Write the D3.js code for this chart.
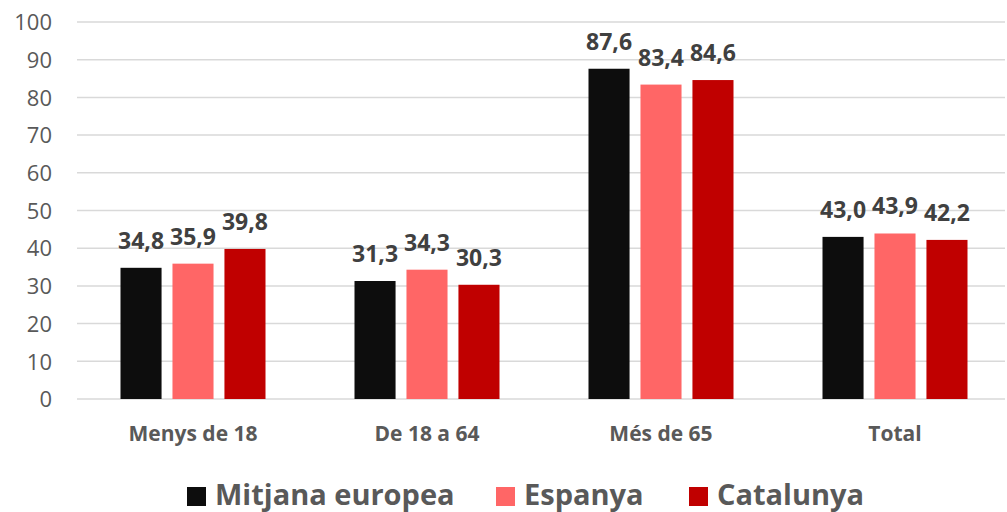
<!DOCTYPE html>
<meta charset="utf-8">
<style>
  body { margin: 0; background: #fff; }
  svg { display: block; font-family: "Open Sans", sans-serif; }
  .grid line { stroke: #d9d9d9; stroke-width: 1.5px; }
  .axis text { font-family: "Open Sans", sans-serif; }
  .axis--y text { fill: #595959; font-size: 22px; }
  .axis--x text { fill: #595959; font-size: 21px; font-weight: bold; }
  .label { fill: #404040; font-size: 23px; font-weight: bold; }
  .legend text { fill: #595959; font-size: 29px; font-weight: bold; }
</style>
<svg width="1007" height="512"></svg>
<script src="https://d3js.org/d3.v7.min.js"></script>
<script>

var categories = ["Menys de 18", "De 18 a 64", "Més de 65", "Total"];
var seriesNames = ["Mitjana europea", "Espanya", "Catalunya"];
var mitjana = [34.8, 31.3, 87.6, 43.0];
var espanya = [35.9, 34.3, 83.4, 43.9];
var catalunya = [39.8, 30.3, 84.6, 42.2];
var yTicks = [0, 10, 20, 30, 40, 50, 60, 70, 80, 90, 100];
var colors = ["#0d0d0d", "#ff6666", "#c00000"];

var seriesValues = [mitjana, espanya, catalunya];

var svg = d3.select("svg");

var x0 = d3.scaleBand().domain(categories).range([76, 1012]).paddingInner(0).paddingOuter(0);
var x1 = d3.scaleBand().domain(seriesNames).range([-72.5, 72.5]).paddingInner(0.21).paddingOuter(0);
var y = d3.scaleLinear().domain([0, 100]).range([399, 22]);

// gridlines
svg.append("g")
    .attr("class", "grid")
  .selectAll("line")
  .data(yTicks)
  .enter().append("line")
    .attr("x1", 77)
    .attr("x2", 1005)
    .attr("y1", function(d) { return y(d); })
    .attr("y2", function(d) { return y(d); });

// y axis labels
svg.append("g")
    .attr("class", "axis axis--y")
    .attr("transform", "translate(52,0)")
    .call(d3.axisLeft(y).tickValues(yTicks).tickSize(0).tickPadding(0))
    .call(function(g) { g.select(".domain").remove(); })
    .selectAll("text").attr("dy", "0.35em");

// x axis labels
svg.append("g")
    .attr("class", "axis axis--x")
    .attr("transform", "translate(0,399)")
    .call(d3.axisBottom(x0).tickSize(0).tickPadding(0))
    .call(function(g) { g.select(".domain").remove(); })
    .selectAll("text").attr("dy", null).attr("y", 42);

var data = [];
categories.forEach(function(c, i) {
  seriesNames.forEach(function(s, j) {
    data.push({cat: c, series: s, value: seriesValues[j][i], color: colors[j]});
  });
});

var fmt = function(v) { return v.toFixed(1).replace(".", ","); };

svg.append("g").selectAll("rect")
  .data(data)
  .enter().append("rect")
    .attr("x", function(d) { return x0(d.cat) + x0.bandwidth() / 2 + x1(d.series); })
    .attr("y", function(d) { return y(d.value); })
    .attr("width", x1.bandwidth())
    .attr("height", function(d) { return y(0) - y(d.value); })
    .style("fill", function(d) { return d.color; });

svg.append("g").selectAll("text")
  .data(data)
  .enter().append("text")
    .attr("class", "label")
    .attr("text-anchor", "middle")
    .attr("x", function(d) { return x0(d.cat) + x0.bandwidth() / 2 + x1(d.series) + x1.bandwidth() / 2; })
    .attr("y", function(d) { return y(d.value) - 19; })
    .text(function(d) { return fmt(d.value); });

// legend
var legendX = [187, 496, 689];
var legend = svg.append("g").attr("class", "legend")
  .selectAll("g")
  .data(seriesNames)
  .enter().append("g")
    .attr("transform", function(d, i) { return "translate(" + legendX[i] + ",0)"; });

legend.append("rect")
    .attr("x", 0)
    .attr("y", 487)
    .attr("width", 19)
    .attr("height", 19)
    .style("fill", function(d, i) { return colors[i]; });

legend.append("text")
    .attr("x", 28)
    .attr("y", 505)
    .text(function(d) { return d; });

</script>
